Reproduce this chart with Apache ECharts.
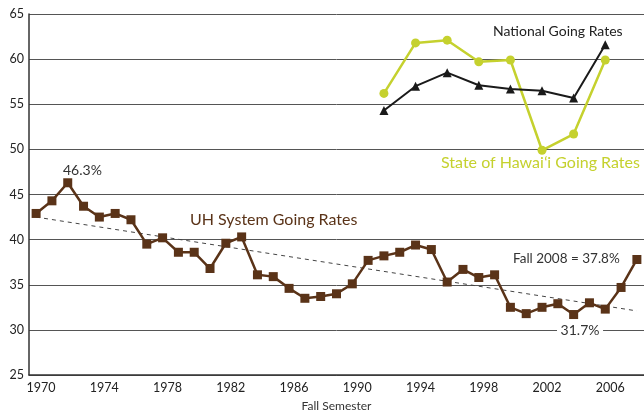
<!DOCTYPE html>
<html><head><meta charset="utf-8">
<script src="https://cdn.jsdelivr.net/npm/echarts@6/dist/echarts.min.js"></script>
<style>html,body{margin:0;padding:0;background:#fff}#c{width:644px;height:417px}</style>
</head><body><div id="c"></div>
<script>
const uhYears = [1970,1971,1972,1973,1974,1975,1976,1977,1978,1979,1980,1981,1982,1983,1984,1985,1986,1987,1988,1989,1990,1991,1992,1993,1994,1995,1996,1997,1998,1999,2000,2001,2002,2003,2004,2005,2006,2007,2008];
const uhRates = [42.9,44.3,46.3,43.7,42.5,42.9,42.2,39.5,40.2,38.6,38.6,36.8,39.6,40.3,36.1,35.9,34.6,33.5,33.7,34.0,35.1,37.7,38.2,38.6,39.4,38.9,35.3,36.7,35.8,36.1,32.5,31.8,32.5,32.9,31.7,33.0,32.3,34.7,37.8];
const biYears = [1992,1994,1996,1998,2000,2002,2004,2006];
const nationalRates = [54.3,57.0,58.5,57.1,56.7,56.5,55.7,61.6];
const hawaiiRates = [56.2,61.8,62.1,59.7,59.9,49.9,51.7,59.9];
const trendYears = [1970,2008];
const trendRates = [42.5,32.1];
const xTickLabels = [1970,1974,1978,1982,1986,1990,1994,1998,2002,2006];

const FONT = 'Lato';
const zip = (xs, ys) => xs.map((x, i) => [x, ys[i]]);
const chart = echarts.init(document.getElementById('c'));
chart.setOption({
  animation: false,
  textStyle: {fontFamily: FONT},
  grid: {left: 29, right: 0, top: 14, bottom: 39},
  xAxis: {
    type: 'value', min: 1969.55, max: 2008.45,
    name: 'Fall Semester', nameLocation: 'middle', nameGap: 25,
    nameTextStyle: {color: '#333', fontSize: 12, fontFamily: FONT},
    axisLine: {show: true, lineStyle: {color: '#333', width: 1.5}},
    axisTick: {show: false},
    splitLine: {show: false},
    axisLabel: {customValues: xTickLabels, color: '#222', fontSize: 12.5, margin: 6, padding: [0,0,0,10], formatter: v => String(v)}
  },
  yAxis: {
    type: 'value', min: 25, max: 65, interval: 5,
    axisLine: {show: true, lineStyle: {color: '#333', width: 1.5}},
    axisTick: {show: false},
    axisLabel: {color: '#222', fontSize: 12.5, margin: 5},
    splitLine: {show: true, lineStyle: {color: '#555', width: 1}}
  },
  series: [
    {type: 'line', data: zip(trendYears, trendRates), symbol: 'none',
     lineStyle: {color: '#444', width: 1, type: [4, 4]}, z: 2},
    {type: 'line', data: zip(uhYears, uhRates), symbol: 'rect', symbolSize: 9,
     itemStyle: {color: '#5a3318'}, lineStyle: {color: '#5a3318', width: 2.5}, z: 3},
    {type: 'line', data: zip(biYears, hawaiiRates), symbol: 'circle', symbolSize: 9,
     itemStyle: {color: '#c5d12e'}, lineStyle: {color: '#c5d12e', width: 2.5}, z: 3},
    {type: 'line', data: zip(biYears, nationalRates), symbol: 'triangle', symbolSize: 9,
     itemStyle: {color: '#1a1a1a'}, lineStyle: {color: '#1a1a1a', width: 2}, z: 4}
  ],
  graphic: [
    {type: 'text', left: 63, top: 163, style: {text: '46.3%', fill: '#333', font: '14px ' + FONT}},
    {type: 'text', left: 190, top: 212, style: {text: 'UH System Going Rates', fill: '#5a3318', font: '16px ' + FONT}},
    {type: 'text', left: 513, top: 252, style: {text: 'Fall 2008 = 37.8%', fill: '#333', font: '13.5px ' + FONT}},
    {type: 'text', left: 557, top: 323, z: 10, style: {text: ' 31.7% ', fill: '#333', font: '14px ' + FONT, backgroundColor: '#fff'}},
    {type: 'text', left: 493, top: 24, style: {text: 'National Going Rates', fill: '#222', font: '14px ' + FONT}},
    {type: 'text', left: 441, top: 155, style: {text: 'State of Hawai\u02bbi Going Rates', fill: '#c5d12e', font: '16px ' + FONT}}
  ]
});
</script></body></html>
